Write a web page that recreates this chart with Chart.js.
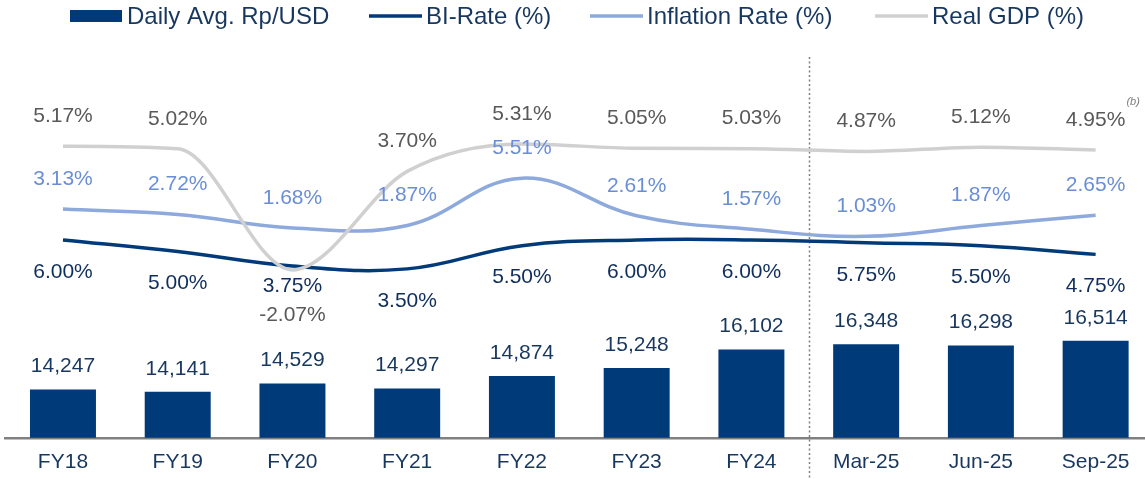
<!DOCTYPE html>
<html>
<head>
<meta charset="utf-8">
<script src="https://cdn.jsdelivr.net/npm/chart.js@4.4.1/dist/chart.umd.min.js"></script>
<style>
html, body { margin: 0; padding: 0; overflow: hidden; background: #fff; }
</style>
</head>
<body>
<canvas id="myChart" width="1160" height="487"></canvas>
<script>
const categories = ['FY18', 'FY19', 'FY20', 'FY21', 'FY22', 'FY23', 'FY24', 'Mar-25', 'Jun-25', 'Sep-25'];
const rpUsd = [14247, 14141, 14529, 14297, 14874, 15248, 16102, 16348, 16298, 16514];
const biRate = [6.00, 5.00, 3.75, 3.50, 5.50, 6.00, 6.00, 5.75, 5.50, 4.75];
const inflation = [3.13, 2.72, 1.68, 1.87, 5.51, 2.61, 1.57, 1.03, 1.87, 2.65];
const realGdp = [5.17, 5.02, -2.07, 3.70, 5.31, 5.05, 5.03, 4.87, 5.12, 4.95];

const FONT = '"Liberation Sans", Arial, sans-serif';
const NAVY_TEXT = '#17375E';

// label offsets (px from the point), mostly uniform per series
const barOffsets = [-23, -23, -23, -23, -23, -23, -23, -23, -23, -23];
const biOffsets = [32, 32, 20, 32, 32, 32, 32, 32, 32, 32];
const inflOffsets = [-30, -30, -30, -30, -30, -30, -30, -30, -30, -30];
const gdpOffsets = [-30, -30, 45, -30, -30, -30, -30, -30, -30, -30];

function withCommas(v) {
    return String(v).replace(/\B(?=(\d{3})+(?!\d))/g, ',');
}

// Data labels above / below the marks
const valueLabels = {
    id: 'valueLabels',
    afterDatasetsDraw(chart) {
        const ctx = chart.ctx;
        ctx.save();
        ctx.textAlign = 'center';
        ctx.textBaseline = 'middle';
        chart.data.datasets.forEach(function (ds, i) {
            const meta = chart.getDatasetMeta(i);
            meta.data.forEach(function (el, j) {
                const v = ds.data[j];
                const text = ds.type === 'bar' ? withCommas(v) : v.toFixed(2) + '%';
                const y = el.y + ds.labelOffsets[j];
                ctx.font = '21px ' + FONT;
                ctx.fillStyle = ds.labelColor;
                ctx.fillText(text, el.x, y);
                if (ds.footnote && ds.footnote.index === j) {
                    const w = ctx.measureText(text).width;
                    ctx.font = 'italic 11px ' + FONT;
                    ctx.fillStyle = '#7F7F7F';
                    ctx.textAlign = 'left';
                    ctx.fillText(ds.footnote.text, el.x + w / 2 + 1, y - 18);
                    ctx.textAlign = 'center';
                }
            });
        });
        ctx.restore();
    }
};

// Legend drawn across the top
const legendX = [70, 369, 590, 875];
const topLegend = {
    id: 'topLegend',
    afterDraw(chart) {
        const ctx = chart.ctx;
        const y = 16;
        ctx.save();
        chart.data.datasets.forEach(function (ds, i) {
            const x = legendX[i];
            if (ds.type === 'bar') {
                ctx.fillStyle = ds.backgroundColor;
                ctx.fillRect(x, y - 6, 52, 12);
            } else {
                ctx.strokeStyle = ds.borderColor;
                ctx.lineWidth = 3.5;
                ctx.beginPath();
                ctx.moveTo(x, y);
                ctx.lineTo(x + 53, y);
                ctx.stroke();
            }
            ctx.font = '24px ' + FONT;
            ctx.fillStyle = NAVY_TEXT;
            ctx.textAlign = 'left';
            ctx.textBaseline = 'middle';
            ctx.fillText(ds.label, x + 57, y + 1);
        });
        ctx.restore();
    }
};

// Dotted separator between annual and quarterly figures
const separator = {
    id: 'separator',
    beforeDatasetsDraw(chart) {
        const xs = chart.scales.x;
        const x = Math.round((xs.getPixelForValue(6) + xs.getPixelForValue(7)) / 2) + 0.5;
        const ctx = chart.ctx;
        ctx.save();
        ctx.strokeStyle = '#7F7F7F';
        ctx.lineWidth = 1.5;
        ctx.setLineDash([2, 2.5]);
        ctx.beginPath();
        ctx.moveTo(x, chart.chartArea.top + 17);
        ctx.lineTo(x, chart.height);
        ctx.stroke();
        ctx.restore();
    }
};

const ctx = document.getElementById('myChart').getContext('2d');

const myChart = new Chart(ctx, {
    type: 'bar',
    data: {
        labels: categories,
        datasets: [
            {
                type: 'bar',
                label: 'Daily Avg. Rp/USD',
                data: rpUsd,
                backgroundColor: '#003A78',
                yAxisID: 'y',
                barPercentage: 0.575,
                categoryPercentage: 1,
                order: 4,
                labelColor: NAVY_TEXT,
                labelOffsets: barOffsets
            },
            {
                type: 'line',
                label: 'BI-Rate (%)',
                data: biRate,
                borderColor: '#003A78',
                borderWidth: 3.5,
                tension: 0.4,
                pointRadius: 0,
                yAxisID: 'yBi',
                order: 3,
                labelColor: '#0F2E5C',
                labelOffsets: biOffsets
            },
            {
                type: 'line',
                label: 'Inflation Rate (%)',
                data: inflation,
                borderColor: '#8EA9DB',
                borderWidth: 3.5,
                tension: 0.4,
                pointRadius: 0,
                yAxisID: 'yInf',
                order: 2,
                labelColor: '#6A8ED6',
                labelOffsets: inflOffsets
            },
            {
                type: 'line',
                label: 'Real GDP (%)',
                data: realGdp,
                borderColor: '#D0D0D0',
                borderWidth: 3.5,
                cubicInterpolationMode: 'monotone',
                pointRadius: 0,
                yAxisID: 'yGdp',
                order: 1,
                labelColor: '#595959',
                labelOffsets: gdpOffsets,
                footnote: { index: 9, text: '(b)' }
            }
        ]
    },
    options: {
        responsive: false,
        animation: false,
        layout: { padding: { top: 40, left: 5.6, right: 7, bottom: 0 } },
        plugins: {
            legend: { display: false },
            tooltip: { enabled: false }
        },
        scales: {
            x: {
                grid: { display: false, drawTicks: false },
                border: { color: '#808080', width: 2.5 },
                ticks: { color: NAVY_TEXT, font: { size: 21, family: FONT }, padding: 12 }
            },
            y: { display: false, min: 12000, max: 30500 },
            yBi: { display: false, min: -11.07, max: 23.24 },
            yInf: { display: false, min: -14.47, max: 16.14 },
            yGdp: { display: false, min: -11.906, max: 11.396 }
        }
    },
    plugins: [separator, valueLabels, topLegend]
});
</script>
</body>
</html>
